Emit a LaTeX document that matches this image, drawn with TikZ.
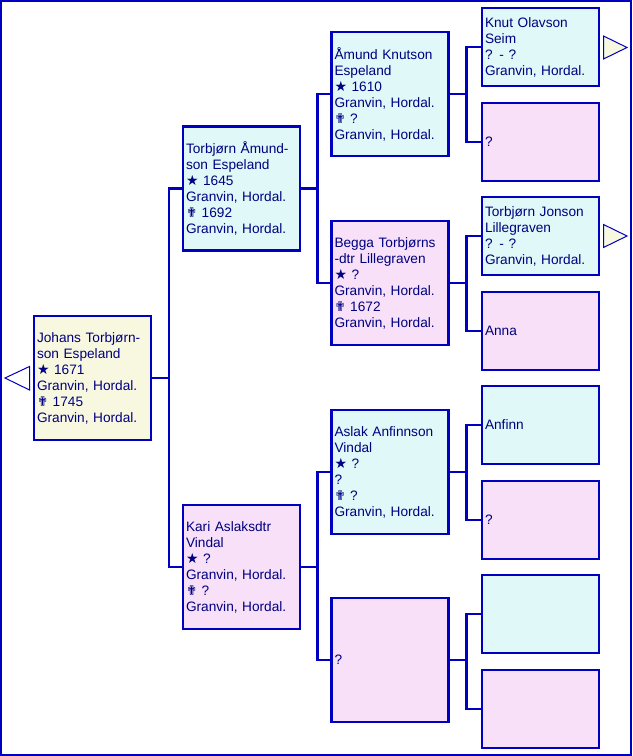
\documentclass[tikz,border=0pt]{standalone}
\usepackage{fontspec}
\setmainfont{Liberation Sans}
\newfontfamily\symfont{DejaVu Sans}

\definecolor{lineblue}{RGB}{0,0,192}
\definecolor{textnavy}{RGB}{0,0,128}
\definecolor{malefill}{RGB}{224,248,248}
\definecolor{femalefill}{RGB}{248,224,248}
\definecolor{rootfill}{RGB}{248,248,224}

\newcommand{\birthmark}{{\symfont\fontsize{10.5}{12}\selectfont ★}}
\newcommand{\deathmark}{{\symfont\fontsize{10}{12}\selectfont ✟}}

\tikzset{every picture/.style={line width=0.75pt}}
\tikzset{
  personbox/.style={draw=lineblue, line width=2pt, rectangle,
    minimum width=87.75pt, text width=83.25pt, inner xsep=2.25pt, inner ysep=0pt,
    align=left, text=textnavy, font=\fontsize{10.25}{12}\selectfont},
  bigbox/.style={personbox, minimum height=93pt},
  smallbox/.style={personbox, minimum height=58.5pt},
  malebox/.style={fill=malefill},
  femalebox/.style={fill=femalefill},
  rootbox/.style={fill=rootfill},
  link/.style={draw=lineblue, line width=2pt},
  more/.style={draw=lineblue, line width=0.75pt}
}

\begin{document}
\begin{tikzpicture}[x=0.75pt,y=0.75pt,yscale=-1,xscale=1]
  \useasboundingbox (0,0) rectangle (632,756);
  \draw [link] (1,1) rectangle (631,755);

  % generation 1
  \node [bigbox, rootbox] (p1) at (92.5,378) {Johans Torbjørn-\\son Espeland\\\birthmark\ 1671\\Granvin, Hordal.\\\deathmark\ 1745\\Granvin, Hordal.};

  % generation 2
  \node [bigbox, malebox] (p2) at (241.5,188.5) {Torbjørn Åmund-\\son Espeland\\\birthmark\ 1645\\Granvin, Hordal.\\\deathmark\ 1692\\Granvin, Hordal.};
  \node [bigbox, femalebox] (p9) at (241.5,567) {Kari Aslaksdtr\\Vindal\\\birthmark\ ?\\Granvin, Hordal.\\\deathmark\ ?\\Granvin, Hordal.};

  % generation 3
  \node [bigbox, malebox] (p3) at (390,94) {Åmund Knutson\\Espeland\\\birthmark\ 1610\\Granvin, Hordal.\\\deathmark\ ?\\Granvin, Hordal.};
  \node [bigbox, femalebox] (p6) at (390,283) {Begga Torbjørns\\-dtr Lillegraven\\\birthmark\ ?\\Granvin, Hordal.\\\deathmark\ 1672\\Granvin, Hordal.};
  \node [bigbox, malebox] (p10) at (390,472) {Aslak Anfinnson\\Vindal\\\birthmark\ ?\\?\\\deathmark\ ?\\Granvin, Hordal.};
  \node [bigbox, femalebox] (p13) at (390,660) {?};

  % generation 4
  \node [smallbox, malebox] (p4) at (540.5,47) {Knut Olavson\\Seim\\? - ?\\Granvin, Hordal.};
  \node [smallbox, femalebox] (p5) at (540.5,142) {?};
  \node [smallbox, malebox] (p7) at (540.5,236) {Torbjørn Jonson\\Lillegraven\\? - ?\\Granvin, Hordal.};
  \node [smallbox, femalebox] (p8) at (540.5,331) {Anna};
  \node [smallbox, malebox] (p11) at (540.5,425) {Anfinn};
  \node [smallbox, femalebox] (p12) at (540.5,520) {?};
  \node [smallbox, malebox] (p14) at (540.5,614) {};
  \node [smallbox, femalebox] (p15) at (540.5,709) {};

  % forks
  \draw [link] (p1.east) -- ++(16.5,0) coordinate (j1);
  \draw [link] (p2.west) -| (j1) |- (p9.west);
  \draw [link] (p2.east) -- ++(16,0) coordinate (j2);
  \draw [link] (p3.west) -| (j2) |- (p6.west);
  \draw [link] (p9.east) -- ++(16,0) coordinate (j5);
  \draw [link] (p10.west) -| (j5) |- (p13.west);
  \draw [link] (p3.east) -- ++(16.5,0) coordinate (j3);
  \draw [link] (p4.west) -| (j3) |- (p5.west);
  \draw [link] (p6.east) -- ++(16.5,0) coordinate (j4);
  \draw [link] (p7.west) -| (j4) |- (p8.west);
  \draw [link] (p10.east) -- ++(16.5,0) coordinate (j6);
  \draw [link] (p11.west) -| (j6) |- (p12.west);
  \draw [link] (p13.east) -- ++(16.5,0) coordinate (j7);
  \draw [link] (p14.west) -| (j7) |- (p15.west);

  % more generations
  \draw [more, fill=white] (29.5,366.5) -- (5,378) -- (29.5,390) -- cycle;
  \draw [more, fill=rootfill] (603.5,36) -- (627,47.5) -- (603.5,59) -- cycle;
  \draw [more, fill=rootfill] (603.5,224.5) -- (627,236) -- (603.5,247.5) -- cycle;

\end{tikzpicture}
\end{document}
